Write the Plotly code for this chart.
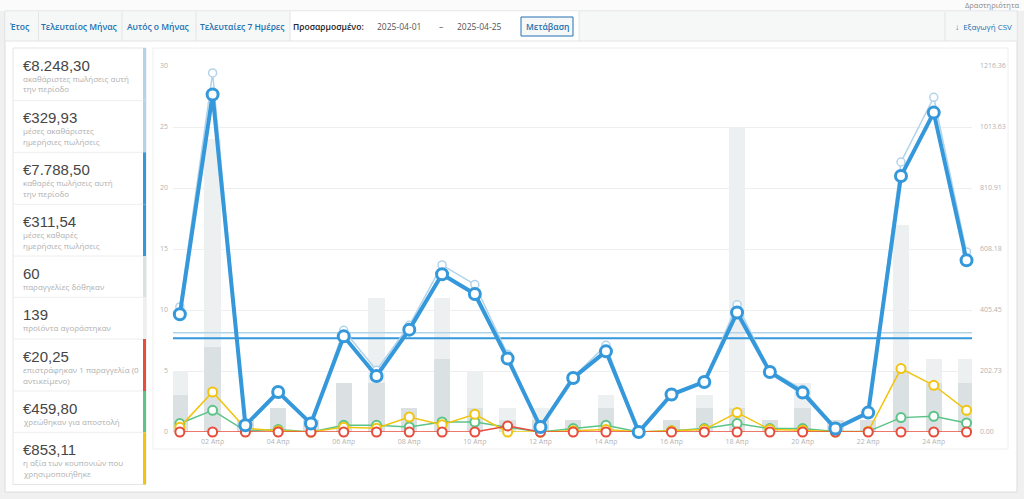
import plotly.graph_objects as go
import pandas as pd

# ---------------- data ----------------
dates = pd.date_range("2025-04-01", "2025-04-25", freq="D")

gross_sales = [415.6, 1193.2, 24.3, 133.8, 28.4, 338.1, 205.2, 354.8, 555.1, 489.8,
               258.3, 18.2, 182.5, 288.3, 0.0, 125.7, 168.3, 423.3, 202.7, 141.9,
               12.2, 64.9, 897.3, 1112.2, 598.0]
net_sales = [391.3, 1121.5, 22.3, 133.0, 28.0, 317.9, 186.1, 340.2, 524.2, 458.6,
             244.1, 16.6, 179.6, 268.0, 0.0, 124.5, 166.2, 396.9, 199.5, 131.0,
             11.4, 64.5, 850.6, 1061.5, 570.5]
shipping = [28.0, 72.2, 4.1, 8.1, 0.0, 22.3, 22.3, 16.6, 33.2, 33.2,
            16.0, 0.0, 11.4, 22.3, 0.0, 4.1, 11.4, 28.0, 11.4, 11.4,
            2.0, 2.0, 47.8, 52.3, 30.0]
coupons = [16.2, 133.0, 12.2, 4.1, 0.0, 16.2, 12.2, 49.9, 24.3, 58.8,
           0.0, 0.0, 4.1, 8.1, 0.0, 4.1, 8.1, 64.5, 8.1, 6.1,
           0.0, 2.0, 210.8, 155.3, 72.2]
refunds = [0, 0, 0, 0, 0, 0, 0, 0, 0, 0,
           20.25, 0, 0, 0, 0, 0, 0, 0, 0, 0,
           0, 0, 0, 0, 0]
items_bought = [5, 24, 1, 2, 1, 4, 11, 2, 11, 5, 2, 2, 1, 3, 0, 1, 3, 25, 1, 4, 1, 1, 17, 6, 6]
orders_placed = [3, 7, 1, 2, 1, 4, 4, 2, 6, 2, 1, 1, 1, 2, 0, 1, 2, 2, 1, 2, 1, 1, 5, 4, 4]

gross_total = 8248.30
net_total = 7788.50

left_ticks = [0, 5, 10, 15, 20, 25, 30]
right_ticktext = ["0.00", "202.73", "405.45", "608.18", "810.91", "1013.63", "1216.36"]
x_tick_days = ["2025-04-02", "2025-04-04", "2025-04-06", "2025-04-08", "2025-04-10",
               "2025-04-12", "2025-04-14", "2025-04-16", "2025-04-18", "2025-04-20",
               "2025-04-22", "2025-04-24"]
x_ticktext = ["02 Απρ", "04 Απρ", "06 Απρ", "08 Απρ", "10 Απρ", "12 Απρ",
              "14 Απρ", "16 Απρ", "18 Απρ", "20 Απρ", "22 Απρ", "24 Απρ"]

legend_values = ["€8.248,30", "€329,93", "€7.788,50", "€311,54", "60", "139",
                 "€20,25", "€459,80", "€853,11"]
legend_desc = [["ακαθάριστες πωλήσεις αυτή", "την περίοδο"],
               ["μέσες ακαθάριστες", "ημερήσιες πωλήσεις"],
               ["καθαρές πωλήσεις αυτή", "την περίοδο"],
               ["μέσες καθαρές", "ημερήσιες πωλήσεις"],
               ["παραγγελίες δόθηκαν"],
               ["προϊόντα αγοράστηκαν"],
               ["επιστράφηκαν 1 παραγγελία (0", "αντικείμενο)"],
               ["χρεώθηκαν για αποστολή"],
               ["η αξία των κουπονιών που", "χρησιμοποιήθηκε"]]
tab_labels = ["Έτος", "Τελευταίος Μήνας", "Αυτός ο Μήνας", "Τελευταίες 7 Ημέρες"]

# ---------------- styles ----------------
C_GROSS = "#b1d4ea"
C_NET = "#3498db"
C_ORD = "#dbe1e3"
C_ITEM = "#ecf0f1"
C_SHIP = "#5cc488"
C_COUP = "#f1c40f"
C_REF = "#e74c3c"
legend_colors = [C_GROSS, C_GROSS, C_NET, C_NET, C_ORD, C_ITEM, C_REF, C_SHIP, C_COUP]
TICK_GREY = "#b4b4b4"

W, H = 1024, 499
L, R, T, B = 173, 972, 66, 432
RIGHT_MAX = 1216.36


def px(x):
    return (x - L) / (R - L)


def py(y):
    return (B - y) / (B - T)


shapes = []
annotations = []


def rect(x0, y0, x1, y1, fill, line=None, lw=1):
    shapes.append(dict(type="rect", xref="paper", yref="paper",
                       x0=px(x0), x1=px(x1), y0=py(y1), y1=py(y0),
                       fillcolor=fill, layer="below",
                       line=dict(color=line if line else "rgba(0,0,0,0)", width=lw if line else 0)))


def seg(x0, y0, x1, y1, color, w=1):
    shapes.append(dict(type="line", xref="paper", yref="paper",
                       x0=px(x0), x1=px(x1), y0=py(y0), y1=py(y1), layer="below",
                       line=dict(color=color, width=w)))


def text(x, y, s, size=9, color="#464646", anchor="left", family="Open Sans", weight="normal"):
    annotations.append(dict(xref="paper", yref="paper", x=px(x), y=py(y), text=s,
                            showarrow=False, xanchor=anchor, yanchor="middle",
                            font=dict(size=size, color=color, family=family, weight=weight)))


# page pieces
rect(0, 0, 1024, 11, "#fbfbfb")
text(1021, 5, "Δραστηριότητα", 7.5, "#888", "right")
rect(5, 11, 1017, 492, "#ffffff", "#dcdcde")
rect(5.5, 11.5, 1016.5, 41, "#f6f7f7")
rect(290, 11.5, 579, 41, "#ffffff")
seg(5, 41, 1017, 41, "#e2e4e7")
for xs in [38.5, 122, 196, 290, 579, 945]:
    seg(xs, 11.5, xs, 41, "#e2e4e7")
tab_x = [20, 79, 158, 242]
for lab, xc in zip(tab_labels, tab_x):
    text(xc, 26.5, lab, 8.5, "#2271b1", "center", weight=600)
text(328, 26.5, "Προσαρμοσμένο:", 8.5, "#1d2327", "center", weight=600)
text(399, 26.5, "2025-04-01", 8.5, "#555", "center")
text(441, 26.5, "–", 8.5, "#555", "center")
text(479, 26.5, "2025-04-25", 8.5, "#555", "center")
rect(521, 17, 573, 36, "#f6f7f7", "#2271b1")
text(547, 26.5, "Μετάβαση", 8.5, "#2271b1", "center", weight=600)
text(983, 26.5, "↓  Εξαγωγή CSV", 8, "#2271b1", "center")

# legend box
bounds = [48, 100.7, 152.3, 204.3, 256, 297.3, 339, 391, 432.3, 484.5]
rect(13, 48, 146, 484.5, "#ffffff", "#e5e5e5")
for i in range(9):
    top, bot = bounds[i], bounds[i + 1]
    if i > 0:
        seg(13, top, 143, top, "#eeeeee")
    rect(143, top, 146, bot, legend_colors[i])
    text(21, top + 17, legend_values[i], 15, "#464646", family="Liberation Sans")
    for k, line in enumerate(legend_desc[i]):
        text(21, top + 30 + 11 * k, line, 8, "#b0b0b0")

# chart box
rect(153, 48, 1008, 449, "#ffffff", "#eeeeee")

# ---------------- traces ----------------
fig = go.Figure()
day_ms = 86400000
fig.add_trace(go.Bar(x=dates, y=items_bought, width=0.5 * day_ms, marker=dict(color=C_ITEM, line=dict(width=0)),
                     yaxis="y", showlegend=False, hoverinfo="skip"))
fig.add_trace(go.Bar(x=dates, y=orders_placed, width=0.5 * day_ms, marker=dict(color=C_ORD, line=dict(width=0)),
                     yaxis="y", showlegend=False, hoverinfo="skip"))

x0r = dates[0] - pd.Timedelta(hours=5)
x1r = dates[-1] + pd.Timedelta(hours=4)
n_days = len(dates)


def line_trace(y, color, lw, msize, mlw):
    return go.Scatter(x=dates, y=y, yaxis="y2", mode="lines+markers", cliponaxis=False,
                      line=dict(color=color, width=lw),
                      marker=dict(size=msize, color="#ffffff", line=dict(color=color, width=mlw)),
                      showlegend=False, hoverinfo="skip")


fig.add_trace(line_trace(shipping, C_SHIP, 1.5, 9, 2))
fig.add_trace(line_trace(coupons, C_COUP, 1.5, 9, 2))
fig.add_trace(line_trace(refunds, C_REF, 1.5, 9, 2))

# averages
for avg, col, w in [(gross_total / n_days, C_GROSS, 1.5), (net_total / n_days, C_NET, 2)]:
    fig.add_trace(go.Scatter(x=[x0r, x1r], y=[avg, avg], yaxis="y2", mode="lines",
                             line=dict(color=col, width=w), showlegend=False, hoverinfo="skip"))

fig.add_trace(line_trace(gross_sales, C_GROSS, 1.5, 8, 1.5))
fig.add_trace(line_trace(net_sales, C_NET, 4, 11, 3))

fig.update_layout(
    width=W, height=H,
    margin=dict(l=L, r=W - R, t=T, b=H - B, pad=0),
    paper_bgcolor="#f0f0f1", plot_bgcolor="#ffffff",
    barmode="overlay", bargap=0,
    shapes=shapes, annotations=annotations,
    font=dict(family="Open Sans"),
    xaxis=dict(type="date", range=[x0r, x1r], tickvals=x_tick_days, ticktext=x_ticktext,
               showgrid=False, zeroline=False, showline=False,
               ticks="outside", ticklen=3, tickcolor="rgba(0,0,0,0)",
               tickfont=dict(size=7, color=TICK_GREY)),
    yaxis=dict(range=[0, 30], tickvals=left_ticks, showgrid=True, gridcolor="#eeeeee", gridwidth=1,
               zeroline=False, showline=False, ticks="", ticklabelstandoff=4,
               tickfont=dict(size=7, color=TICK_GREY)),
    yaxis2=dict(range=[0, RIGHT_MAX], overlaying="y", side="right",
                tickvals=[RIGHT_MAX * i / 6 for i in range(7)], ticktext=right_ticktext,
                showgrid=False, zeroline=False, showline=False, ticks="", ticklabelstandoff=7,
                tickfont=dict(size=7, color=TICK_GREY)),
)

fig.write_html("out.html", config={"displayModeBar": False})
with open("out.html", encoding="utf-8") as f:
    html = f.read()
html = html.replace("<body>", '<body style="margin:0;overflow:hidden">', 1)
with open("out.html", "w", encoding="utf-8") as f:
    f.write(html)
